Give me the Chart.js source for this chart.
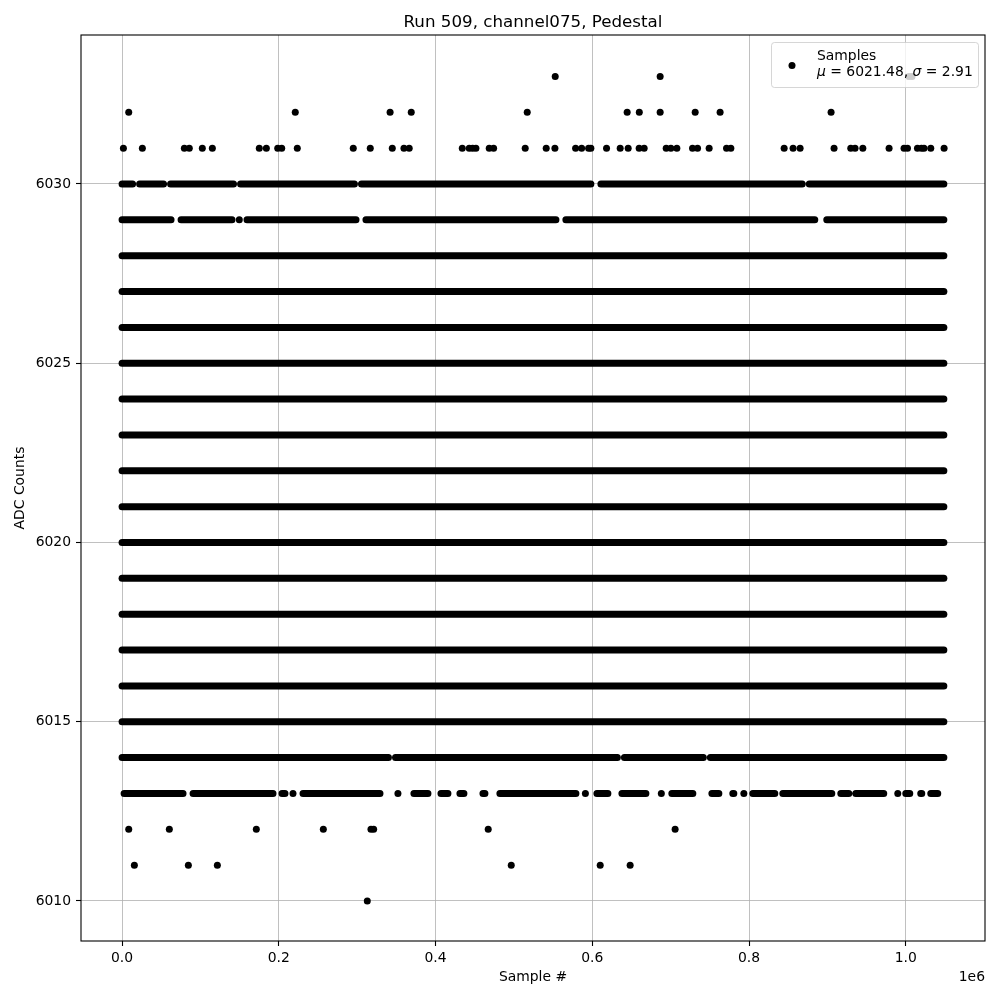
<!DOCTYPE html>
<html lang="en">
<head>
<meta charset="UTF-8" />
<title>Run 509, channel075, Pedestal</title>
<script src="https://cdn.jsdelivr.net/npm/chart.js"></script>
<style>
  html, body { margin: 0; padding: 0; background: #fff; }
  #wrap { width: 1000px; height: 1000px; }
</style>
</head>
<body>
<div id="wrap"><canvas id="pedChart" width="1000" height="1000"></canvas></div>
<script>
  // x is the sample number in units of 1e6 (axis shows the "1e6" offset)
  const xTicks = [0.0, 0.2, 0.4, 0.6, 0.8, 1.0];
  const yTicks = [6010, 6015, 6020, 6025, 6030];
  const lastSample = 1.0486;

  // ADC levels that are filled over the whole run
  const fullLevels = [6015, 6016, 6017, 6018, 6019, 6020, 6021, 6022, 6023, 6024, 6025, 6026, 6027, 6028];

  // partly filled levels: [first, last] of each unbroken stretch
  const runs6030 = [[0, 0.0134], [0.0224, 0.0529], [0.0619, 0.1422], [0.1512, 0.2965], [0.3055, 0.5982],
                    [0.6110, 0.8679], [0.8769, lastSample]];
  const runs6029 = [[0, 0.0625], [0.0753, 0.1403], [0.1594, 0.2985], [0.3112, 0.5536], [0.5663, 0.8839],
                    [0.8992, lastSample]];
  const runs6014 = [[0, 0.3399], [0.3489, 0.6320], [0.6410, 0.7417], [0.7507, lastSample]];
  const runs6013 = [[0.0026, 0.0778], [0.0906, 0.1926], [0.2041, 0.2079], [0.2309, 0.3291], [0.3724, 0.3903],
                    [0.4069, 0.4158], [0.4311, 0.4362], [0.4605, 0.4630], [0.4821, 0.5791], [0.6059, 0.6199],
                    [0.6378, 0.6684], [0.7015, 0.7283], [0.7526, 0.7615], [0.7793, 0.7806], [0.8048, 0.8329],
                    [0.8431, 0.9056], [0.9171, 0.9273], [0.9362, 0.9719], [1.0000, 1.0051], [1.0191, 1.0204],
                    [1.0319, 1.0408]];

  // single samples
  const hits6033 = [0.5527, 0.6866, 1.0040, 1.0080];
  const hits6032 = [0.0085, 0.2210, 0.3420, 0.3690, 0.5170, 0.6445, 0.6600, 0.6866, 0.7313, 0.7631, 0.9047];
  const hits6031 = [0.0017, 0.0259, 0.0795, 0.0858, 0.1024, 0.1152, 0.1751, 0.1841, 0.1986, 0.2037, 0.2236,
                    0.2950, 0.3167, 0.3448, 0.3597, 0.3664, 0.4341, 0.4430, 0.4473, 0.4515, 0.4685, 0.4741,
                    0.5144, 0.5412, 0.5523, 0.5787, 0.5864, 0.5953, 0.5982, 0.6182, 0.6356, 0.6458, 0.6598,
                    0.6662, 0.6943, 0.7003, 0.7079, 0.7279, 0.7343, 0.7491, 0.7713, 0.7768, 0.8448, 0.8562,
                    0.8652, 0.9085, 0.9298, 0.9353, 0.9452, 0.9787, 0.9978, 1.0022, 1.0149, 1.0200, 1.0233,
                    1.0319, 1.0489];
  const hits6029 = [0.1496];
  const hits6013 = [0.2181, 0.3520, 0.5912, 0.6881, 0.7934, 0.9898];
  const hits6012 = [0.0085, 0.0603, 0.1713, 0.2568, 0.3176, 0.3210, 0.4672, 0.7057];
  const hits6011 = [0.0157, 0.0846, 0.1216, 0.4966, 0.6101, 0.6483];
  const hits6010 = [0.3129];

  const mu = 6021.48, sigma = 2.91;
  const FONT = "'DejaVu Sans', sans-serif";

  function runData(runs, level) {
    const pts = [];
    runs.forEach(r => {
      pts.push({ x: r[0], y: level }, { x: r[1], y: level }, { x: r[1], y: null });
    });
    return pts;
  }

  const datasets = [];
  fullLevels.forEach(lv => {
    datasets.push({ data: runData([[0, lastSample]], lv), showLine: true, borderWidth: 7,
                    borderColor: '#000', borderCapStyle: 'round', pointRadius: 0 });
  });
  [[runs6030, 6030], [runs6029, 6029], [runs6014, 6014], [runs6013, 6013]].forEach(([runs, lv]) => {
    datasets.push({ data: runData(runs, lv), showLine: true, borderWidth: 7,
                    borderColor: '#000', borderCapStyle: 'round', pointRadius: 0 });
  });
  [[hits6033, 6033], [hits6032, 6032], [hits6031, 6031], [hits6029, 6029], [hits6013, 6013],
   [hits6012, 6012], [hits6011, 6011], [hits6010, 6010]].forEach(([xs, lv]) => {
    datasets.push({ data: xs.map(x => ({ x: x, y: lv })), showLine: false, pointRadius: 3.5,
                    pointBackgroundColor: '#000', pointBorderWidth: 0 });
  });

  const decorPlugin = {
    id: 'decor',
    afterDraw(chart) {
      const ctx = chart.ctx;
      const a = chart.chartArea;
      ctx.save();
      // axes frame
      ctx.strokeStyle = '#000';
      ctx.lineWidth = 1.1;
      ctx.strokeRect(a.left, a.top, a.right - a.left, a.bottom - a.top);

      // titles
      ctx.fillStyle = '#000';
      ctx.textAlign = 'center';
      ctx.textBaseline = 'alphabetic';
      ctx.font = '16.7px ' + FONT;
      ctx.fillText('Run 509, channel075, Pedestal', (a.left + a.right) / 2, 27);
      ctx.font = '13.9px ' + FONT;
      ctx.textBaseline = 'middle';
      ctx.fillText('Sample #', (a.left + a.right) / 2, 977);
      ctx.textAlign = 'right';
      ctx.fillText('1e6', a.right, 977);
      ctx.save();
      ctx.translate(20, (a.top + a.bottom) / 2);
      ctx.rotate(-Math.PI / 2);
      ctx.textAlign = 'center';
      ctx.fillText('ADC Counts', 0, 0);
      ctx.restore();

      // legend
      const lx = 771.5, ly = 42.5, lw = 207, lh = 45, rr = 3;
      ctx.beginPath();
      ctx.roundRect(lx, ly, lw, lh, rr);
      ctx.fillStyle = 'rgba(255,255,255,0.8)';
      ctx.fill();
      ctx.strokeStyle = 'rgba(204,204,204,0.8)';
      ctx.lineWidth = 1;
      ctx.stroke();
      ctx.beginPath();
      ctx.arc(792, 65.5, 3.5, 0, Math.PI * 2);
      ctx.fillStyle = '#000';
      ctx.fill();
      ctx.textAlign = 'left';
      ctx.textBaseline = 'alphabetic';
      ctx.font = '13.9px ' + FONT;
      ctx.fillText('Samples', 817, 59.5);
      const parts = [['\u03bc', true], [' = ' + mu.toFixed(2) + ', ', false], ['\u03c3', true], [' = ' + sigma.toFixed(2), false]];
      let tx = 817;
      parts.forEach(([t, it]) => {
        ctx.font = (it ? 'italic ' : '') + '13.9px ' + FONT;
        ctx.fillText(t, tx, 75.5);
        tx += ctx.measureText(t).width;
      });
      ctx.restore();
    }
  };

  new Chart(document.getElementById('pedChart').getContext('2d'), {
    type: 'scatter',
    data: { datasets },
    options: {
      responsive: false,
      animation: false,
      events: [],
      layout: { padding: { top: 35, right: 15, left: 0, bottom: 0 } },
      plugins: { legend: { display: false }, tooltip: { enabled: false }, title: { display: false } },
      scales: {
        x: {
          type: 'linear', min: -0.0524, max: 1.1011,
          afterFit: s => { s.height = 59; },
          afterBuildTicks: s => { s.ticks = xTicks.map(v => ({ value: v })); },
          grid: { color: '#b0b0b0', lineWidth: 0.8, tickColor: '#000', tickLength: 5, tickWidth: 1.1 },
          border: { display: false },
          ticks: { color: '#000', padding: 4, maxRotation: 0, font: { family: FONT, size: 13.9 },
                   callback: v => v.toFixed(1) }
        },
        y: {
          type: 'linear', min: 6008.884, max: 6034.156,
          afterFit: s => { s.width = 81; },
          afterBuildTicks: s => { s.ticks = yTicks.map(v => ({ value: v })); },
          grid: { color: '#b0b0b0', lineWidth: 0.8, tickColor: '#000', tickLength: 5, tickWidth: 1.1 },
          border: { display: false },
          ticks: { color: '#000', padding: 5, font: { family: FONT, size: 13.9 },
                   callback: v => String(v) }
        }
      }
    },
    plugins: [decorPlugin]
  });
</script>
</body>
</html>
